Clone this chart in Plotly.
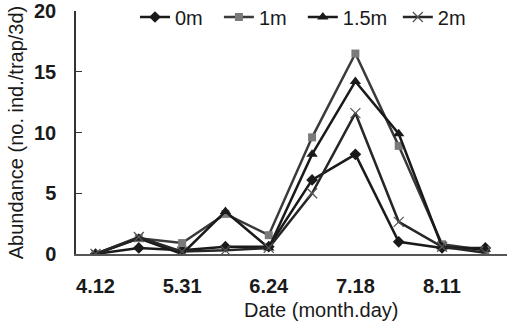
import plotly.graph_objects as go

dates = ["4.12", "4.30", "5.31", "6.12", "6.24", "7.06", "7.18", "7.30", "8.11", "8.23"]
tick_labels = ["4.12", "", "5.31", "", "6.24", "", "7.18", "", "8.11", ""]
d0 = [0.0, 0.5, 0.3, 0.6, 0.6, 6.1, 8.2, 1.0, 0.5, 0.5]
d1 = [0.0, 1.3, 0.9, 3.3, 1.55, 9.6, 16.5, 8.9, 0.8, 0.3]
d15 = [0.0, 1.3, 0.0, 3.5, 0.5, 8.2, 14.2, 9.9, 0.6, 0.4]
d2 = [0.0, 1.4, 0.2, 0.3, 0.5, 5.0, 11.6, 2.65, 0.6, 0.1]
series_names = ["0m", "1m", "1.5m", "2m"]

FONT = "Liberation Sans, Arial, sans-serif"
xs = list(range(len(dates)))
NB = "\u00a0"

fig = go.Figure()
fig.add_trace(go.Scatter(x=xs, y=d0, name=series_names[0] + NB * 2, mode="lines+markers",
                         line=dict(color="#1a1a1a", width=2.5),
                         marker=dict(symbol="diamond", size=9, color="#1a1a1a")))
fig.add_trace(go.Scatter(x=xs, y=d1, name=series_names[1] + NB * 2, mode="lines+markers",
                         line=dict(color="#3a3a3a", width=2.5),
                         marker=dict(symbol="square", size=8, color="#7a7a7a")))
fig.add_trace(go.Scatter(x=xs, y=d15, name=series_names[2] + NB, mode="lines+markers",
                         line=dict(color="#1a1a1a", width=2.5),
                         marker=dict(symbol="triangle-up", size=10, color="#1a1a1a")))
fig.add_trace(go.Scatter(x=xs, y=d2, name=series_names[3], mode="lines+markers",
                         line=dict(color="#262626", width=2.5),
                         marker=dict(symbol="x-thin", size=10,
                                     line=dict(color="#555555", width=1.2))))

W, H = 509, 323
L, T, R, B = 76, 11, 2, 69
pw, ph = W - L - R, H - T - B

fig.update_layout(
    width=W, height=H,
    margin=dict(l=L, r=R, t=T, b=B, autoexpand=False),
    paper_bgcolor="white", plot_bgcolor="white",
    font=dict(family=FONT, color="#1a1a1a"),
    showlegend=True,
    legend=dict(orientation="h", xref="container", x=135 / W, xanchor="left",
                yref="container", y=1 - 17 / H, yanchor="middle",
                font=dict(size=20, family=FONT, color="#1a1a1a"),
                bgcolor="rgba(0,0,0,0)", itemwidth=30, tracegroupgap=0),
    xaxis=dict(range=[-0.45, 9.5], tickmode="array", tickvals=xs, ticktext=tick_labels,
               showgrid=False, zeroline=False, showline=True, linecolor="#555555",
               linewidth=1.5, ticks="", ticklabelstandoff=13, automargin=False,
               tickfont=dict(size=20, family=FONT, weight="bold", color="#1a1a1a")),
    yaxis=dict(range=[0, 20], tickvals=[0, 5, 10, 15, 20], showgrid=False, zeroline=False,
               showline=True, linecolor="#333333", linewidth=1.5, ticks="inside",
               ticklen=6, tickcolor="#333333", ticklabelstandoff=14, automargin=False,
               tickfont=dict(size=20, family=FONT, weight="bold", color="#1a1a1a"),
               title=dict(text="Abundance (no. ind./trap/3d)", standoff=5,
                          font=dict(size=20, family=FONT, color="#1a1a1a"))),
    annotations=[dict(text="Date (month.day)", x=(321 - L) / pw, y=(H - B - 310) / ph,
                      xref="paper", yref="paper", xanchor="center", yanchor="middle",
                      showarrow=False, font=dict(size=20, family=FONT, color="#1a1a1a"))],
)

# remove the browser's default 8px body margin so the figure fills the window
fig.write_html("out.html", config={"displayModeBar": False},
               post_script="document.body.style.margin='0';")
